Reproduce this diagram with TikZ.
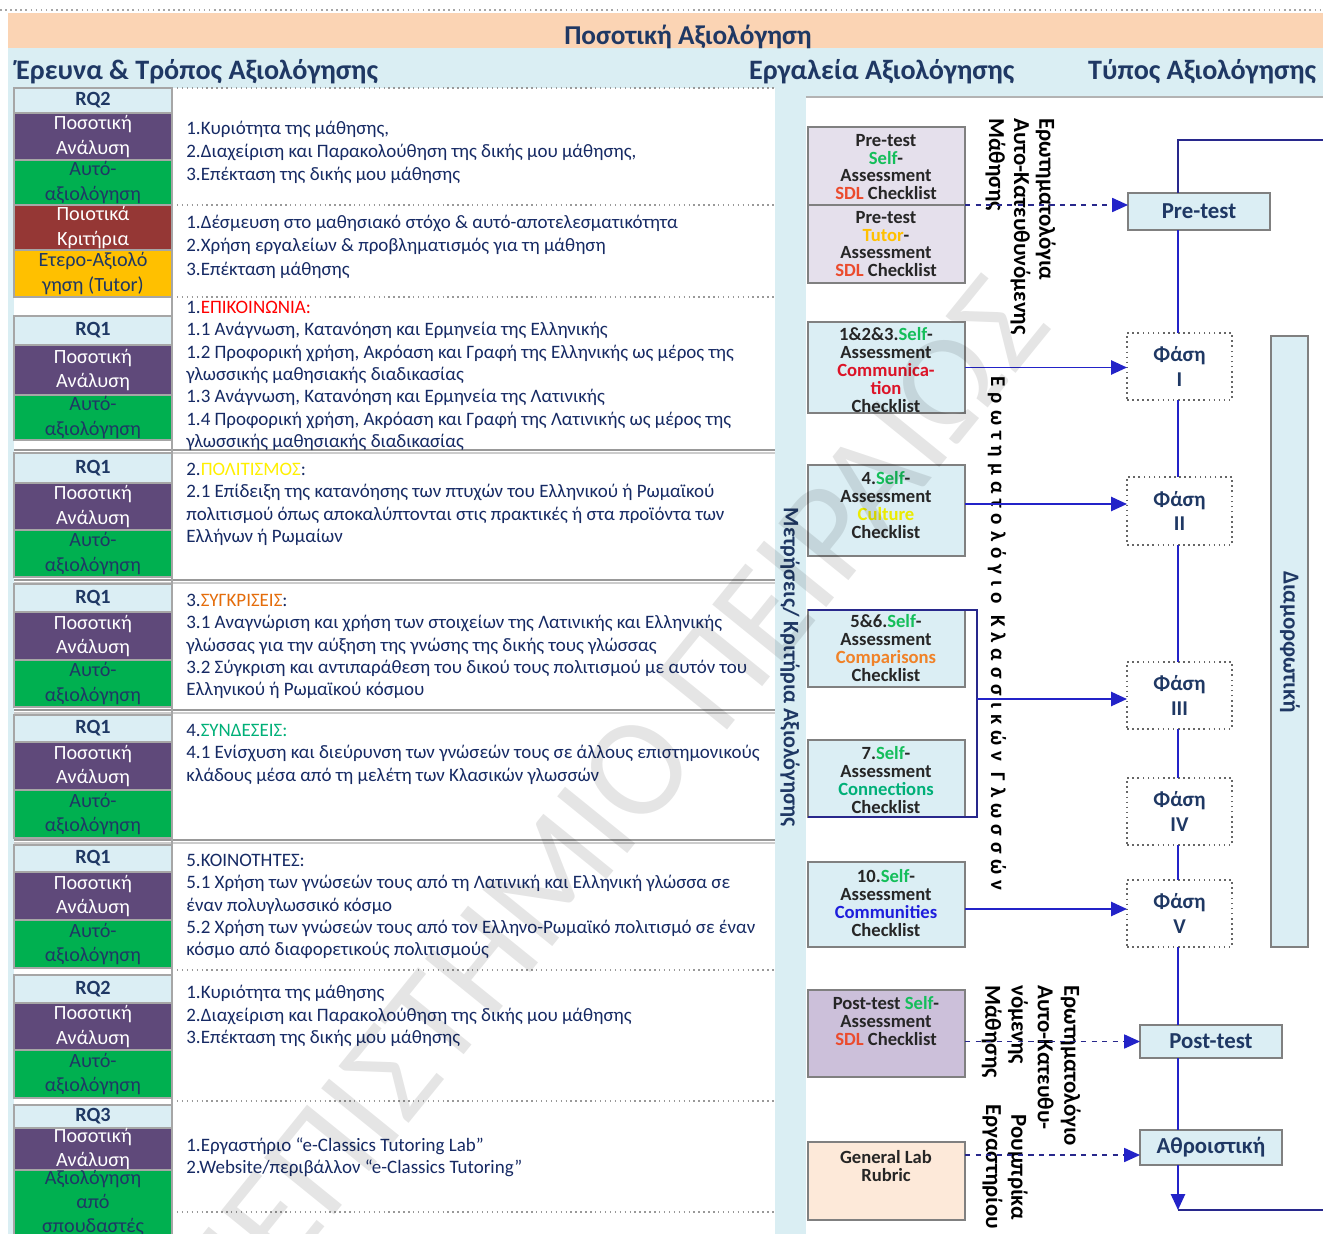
\documentclass[tikz,border=0pt]{standalone}
\usepackage{fontspec}
\setmainfont{Carlito}
\usetikzlibrary{arrows.meta}

\definecolor{navy}{RGB}{31,56,100}
\definecolor{rowink}{RGB}{22,42,100}
\definecolor{peach}{RGB}{251,212,180}
\definecolor{bgblue}{RGB}{218,238,243}
\definecolor{cellblue}{RGB}{219,238,244}
\definecolor{purp}{RGB}{95,73,122}
\definecolor{grn}{RGB}{0,176,80}
\definecolor{dred}{RGB}{149,55,53}
\definecolor{amber}{RGB}{255,192,0}
\definecolor{lilac}{RGB}{229,224,236}
\definecolor{lilacdk}{RGB}{204,192,218}
\definecolor{labpeach}{RGB}{253,233,217}
\definecolor{edge}{RGB}{128,128,128}
\definecolor{flow}{RGB}{35,35,200}
\definecolor{dashc}{RGB}{40,40,140}
\definecolor{selfg}{RGB}{20,190,90}
\definecolor{sdl}{RGB}{235,75,45}
\definecolor{tutorc}{RGB}{255,192,0}
\definecolor{commc}{RGB}{220,20,40}
\definecolor{cultc}{RGB}{235,235,0}
\definecolor{compc}{RGB}{240,130,40}
\definecolor{connc}{RGB}{0,176,120}
\definecolor{commuc}{RGB}{30,30,220}
\definecolor{epik}{RGB}{255,0,0}
\definecolor{polit}{RGB}{255,240,0}
\definecolor{sygk}{RGB}{228,108,10}
\definecolor{synd}{RGB}{0,176,120}
\definecolor{toolink}{RGB}{38,38,38}

% empty framed cell from (x1,y1) to (x2,y2) plus a centred label
\newcommand{\cellbox}[8]{%
  \node[#6, anchor=north west, inner sep=0pt, outer sep=0pt,
        minimum width={((#4)-(#2))*0.02cm},
        minimum height={((#5)-(#3))*0.02cm}] (#1) at (#2,#3) {};
  \node[#7, align=center, inner sep=0pt] (#1-t) at (#1.center) {#8};}

\begin{document}
\begin{tikzpicture}[x=0.02cm, y=-0.02cm,
  rqcell/.style={fill=cellblue, draw=edge!70, line width=0.6pt},
  rqtext/.style={text=navy, font=\fontsize{11.5}{13.7}\selectfont\bfseries},
  qcell/.style={fill=purp, draw=edge!70, line width=0.6pt},
  qtext/.style={text=white, font=\fontsize{11.5}{13.7}\selectfont},
  scell/.style={fill=grn, draw=edge!70, line width=0.6pt},
  stext/.style={text=navy, font=\fontsize{11.5}{13.7}\selectfont},
  rcell/.style={fill=dred, draw=edge!70, line width=0.6pt},
  ocell/.style={fill=amber, draw=edge!70, line width=0.6pt},
  rowtext/.style={anchor=north west, inner sep=0pt, align=left, text=rowink,
    font=\fontsize{10.8}{12.7}\selectfont},
  sepdot/.style={draw=edge!80, dotted, line width=0.8pt},
  sepline/.style={draw=edge!80, line width=1pt},
  header/.style={text=navy, font=\fontsize{16}{19}\selectfont\bfseries, anchor=west},
  toolbox/.style={fill=cellblue, draw=edge, line width=0.8pt},
  tooltext/.style={text=toolink, align=center,
    font=\fontsize{10.6}{10.2}\selectfont\bfseries},
  stagebox/.style={fill=cellblue, draw=edge, line width=0.8pt},
  stagetext/.style={text=navy, font=\fontsize{13}{15}\selectfont\bfseries},
  phasebox/.style={fill=white, draw=black!60, dotted, line width=0.9pt},
  phasetext/.style={text=navy, font=\fontsize{12}{13.7}\selectfont\bfseries},
  vtext/.style={rotate=-90, text=black, align=left, inner sep=0pt,
    font=\fontsize{13}{14.3}\selectfont\bfseries},
  flowline/.style={draw=flow, line width=1.1pt},
  flowarrow/.style={draw=flow, line width=1.1pt, -{Triangle[length=9pt,width=8pt]}},
  dasharrow/.style={draw=dashc, line width=0.8pt, dashed,
    -{Triangle[length=9pt,width=8pt,color=flow]}},
]
\useasboundingbox (0,0) rectangle (1323,1234);
\fill[white] (0,0) rectangle (1323,1234);

% ---- title bands ----
\draw[edge!70, dotted, line width=0.9pt] (0,10) -- (1323,10);
\fill[peach] (8,13) rectangle (1323,48);
\fill[bgblue] (8,48) rectangle (1323,1234);
\node[text=navy, font=\fontsize{15.5}{18}\selectfont\bfseries] (title) at (688,37) {Ποσοτική Αξιολόγηση};
\node[header] (h1) at (10,72) {Έρευνα \& Τρόπος Αξιολόγησης};
\node[header] (h2) at (743,72) {Εργαλεία Αξιολόγησης};
\node[header] (h3) at (1082,72) {Τύπος Αξιολόγησης};

% ---- left table ----
\fill[white] (14,88) rectangle (775,1234);
\fill[white] (806,97) rectangle (1323,1234);
\draw[edge!60, line width=0.8pt] (806,97) -- (1323,97);

\draw[sepdot] (172,88) -- (775,88);
\draw[sepdot] (172,205) -- (775,205);
\draw[sepdot] (172,297) -- (775,297);
\foreach \yy in {450,580,710,840} {
  \draw[sepline] (14,\yy) -- (775,\yy);
  \draw[edge!40, line width=0.8pt] (14,\yy+3) -- (775,\yy+3);
}
\draw[sepdot] (172,970) -- (775,970);
\draw[sepdot] (172,1101) -- (775,1101);
\draw[sepdot] (172,1212) -- (775,1212);
\draw[edge!70, line width=0.8pt] (172,88) -- (172,1234);

% row 1
\cellbox{r1a}{14}{88}{172}{113}{rqcell}{rqtext}{RQ2}
\cellbox{r1b}{14}{113}{172}{160}{qcell}{qtext}{Ποσοτική\\Ανάλυση}
\cellbox{r1c}{14}{160}{172}{205}{scell}{stext}{Αυτό-\\αξιολόγηση}
\node[rowtext, font=\fontsize{10.8}{13}\selectfont] (t1) at (186,121) {1.Κυριότητα της μάθησης,\\2.Διαχείριση και Παρακολούθηση της δικής μου μάθησης,\\3.Επέκταση της δικής μου μάθησης};
% row 2
\cellbox{r2a}{14}{205}{172}{250}{rcell}{qtext}{Ποιοτικά\\Κριτήρια}
\cellbox{r2b}{14}{250}{172}{297}{ocell}{stext}{Ετερο-Αξιολό\\γηση  (Tutor)}
\node[rowtext, font=\fontsize{10.8}{13.2}\selectfont] (t2) at (186,215) {1.Δέσμευση στο μαθησιακό στόχο \& αυτό-αποτελεσματικότητα\\2.Χρήση εργαλείων  \& προβληματισμός για τη μάθηση\\3.Επέκταση μάθησης};
% row 3
\cellbox{r3a}{14}{316}{172}{345}{rqcell}{rqtext}{RQ1}
\cellbox{r3b}{14}{345}{172}{395}{qcell}{qtext}{Ποσοτική\\Ανάλυση}
\cellbox{r3c}{14}{395}{172}{440}{scell}{stext}{Αυτό-\\αξιολόγηση}
\node[rowtext] (t3) at (186,301) {1.{\color{epik}ΕΠΙΚΟΙΝΩΝΙΑ:}\\
1.1 Ανάγνωση, Κατανόηση και Ερμηνεία της Ελληνικής\\
1.2 Προφορική  χρήση, Ακρόαση και Γραφή  της Ελληνικής ως μέρος της\\
γλωσσικής μαθησιακής διαδικασίας\\
1.3 Ανάγνωση, Κατανόηση και Ερμηνεία της Λατινικής\\
1.4 Προφορική  χρήση, Ακρόαση και Γραφή  της Λατινικής ως μέρος της\\
γλωσσικής μαθησιακής διαδικασίας};
% row 4
\cellbox{r4a}{14}{453}{172}{483}{rqcell}{rqtext}{RQ1}
\cellbox{r4b}{14}{483}{172}{530}{qcell}{qtext}{Ποσοτική\\Ανάλυση}
\cellbox{r4c}{14}{530}{172}{577}{scell}{stext}{Αυτό-\\αξιολόγηση}
\node[rowtext] (t4) at (186,463) {2.{\color{polit}ΠΟΛΙΤΙΣΜΟΣ}:\\
2.1 Επίδειξη της κατανόησης των πτυχών του Ελληνικού ή Ρωμαϊκού\\
πολιτισμού όπως αποκαλύπτονται στις πρακτικές ή στα προϊόντα των\\
Ελλήνων ή Ρωμαίων};
% row 5
\cellbox{r5a}{14}{584}{172}{612}{rqcell}{rqtext}{RQ1}
\cellbox{r5b}{14}{612}{172}{660}{qcell}{qtext}{Ποσοτική\\Ανάλυση}
\cellbox{r5c}{14}{660}{172}{707}{scell}{stext}{Αυτό-\\αξιολόγηση}
\node[rowtext] (t5) at (186,594) {3.{\color{sygk}ΣΥΓΚΡΙΣΕΙΣ}:\\
3.1 Αναγνώριση και χρήση των στοιχείων της Λατινικής και Ελληνικής\\
γλώσσας για την αύξηση της γνώσης της δικής τους γλώσσας\\
3.2 Σύγκριση και αντιπαράθεση του δικού τους πολιτισμού με αυτόν του\\
Ελληνικού ή Ρωμαϊκού κόσμου};
% row 6
\cellbox{r6a}{14}{715}{172}{742}{rqcell}{rqtext}{RQ1}
\cellbox{r6b}{14}{742}{172}{790}{qcell}{qtext}{Ποσοτική\\Ανάλυση}
\cellbox{r6c}{14}{790}{172}{838}{scell}{stext}{Αυτό-\\αξιολόγηση}
\node[rowtext] (t6) at (186,724) {4.{\color{synd}ΣΥΝΔΕΣΕΙΣ:}\\
4.1 Ενίσχυση και διεύρυνση των γνώσεών τους σε άλλους επιστημονικούς\\
κλάδους μέσα από τη μελέτη των Κλασικών γλωσσών};
% row 7
\cellbox{r7a}{14}{845}{172}{872}{rqcell}{rqtext}{RQ1}
\cellbox{r7b}{14}{872}{172}{920}{qcell}{qtext}{Ποσοτική\\Ανάλυση}
\cellbox{r7c}{14}{920}{172}{968}{scell}{stext}{Αυτό-\\αξιολόγηση}
\node[rowtext] (t7) at (186,854) {5.ΚΟΙΝΟΤΗΤΕΣ:\\
5.1 Χρήση των γνώσεών τους από τη Λατινική και Ελληνική γλώσσα σε\\
έναν πολυγλωσσικό κόσμο\\
5.2 Χρήση των γνώσεών τους από τον Ελληνο-Ρωμαϊκό πολιτισμό σε έναν\\
κόσμο από διαφορετικούς πολιτισμούς};
% row 8
\cellbox{r8a}{14}{975}{172}{1003}{rqcell}{rqtext}{RQ2}
\cellbox{r8b}{14}{1003}{172}{1050}{qcell}{qtext}{Ποσοτική\\Ανάλυση}
\cellbox{r8c}{14}{1050}{172}{1098}{scell}{stext}{Αυτό-\\αξιολόγηση}
\node[rowtext] (t8) at (186,985) {1.Κυριότητα της μάθησης\\2.Διαχείριση και Παρακολούθηση της δικής μου μάθησης\\3.Επέκταση της δικής μου μάθησης};
% row 9
\cellbox{r9a}{14}{1105}{172}{1128}{rqcell}{rqtext}{RQ3}
\cellbox{r9b}{14}{1128}{172}{1170}{qcell}{qtext}{Ποσοτική\\Ανάλυση}
\cellbox{r9c}{14}{1170}{172}{1236}{scell}{stext}{Αξιολόγηση\\από\\σπουδαστές}
\node[rowtext] (t9) at (186,1137) {1.Εργαστήριο “e-Classics Tutoring Lab”\\2.Website/περιβάλλον “e-Classics Tutoring”};

% ---- measurement strip ----
\node[rotate=-90, text=navy, font=\fontsize{12.6}{14}\selectfont\bfseries] (metr) at (790,667) {Μετρήσεις/ Κριτήρια Αξιολόγησης};

% ---- assessment tools ----
\cellbox{preA}{808}{127}{965}{205}{toolbox, fill=lilac}{tooltext}{}
\cellbox{preB}{808}{205}{965}{283}{toolbox, fill=lilac}{tooltext}{}
\cellbox{comm}{808}{322}{965}{413}{toolbox}{tooltext}{}
\cellbox{cult}{808}{465}{965}{556}{toolbox}{tooltext}{}
\cellbox{comp}{808}{610}{965}{687}{toolbox}{tooltext}{}
\cellbox{conn}{808}{740}{965}{817}{toolbox}{tooltext}{}
\cellbox{cmty}{808}{862}{965}{947}{toolbox}{tooltext}{}
\cellbox{post}{808}{990}{965}{1077}{toolbox, fill=lilacdk}{tooltext}{}
\cellbox{lab}{808}{1142}{965}{1220}{toolbox, fill=labpeach}{tooltext}{}

\node[tooltext] (preAt) at (886,167) {Pre-test\\{\color{selfg}Self}-\\Assessment\\{\color{sdl}SDL} Checklist};
\node[tooltext] (preBt) at (886,244) {Pre-test\\{\color{tutorc}Tutor}-\\Assessment\\{\color{sdl}SDL} Checklist};
\node[tooltext] (commt) at (886,370) {1\&2\&3.{\color{selfg}Self}-\\Assessment\\{\color{commc}Communica-}\\{\color{commc}tion}\\Checklist};
\node[tooltext] (cultt) at (886,505) {4.{\color{selfg}Self}-\\Assessment\\{\color{cultc}Culture}\\Checklist};
\node[tooltext] (compt) at (886,648) {5\&6.{\color{selfg}Self}-\\Assessment\\{\color{compc}Comparisons}\\Checklist};
\node[tooltext] (connt) at (886,780) {7.{\color{selfg}Self}-\\Assessment\\{\color{connc}Connections}\\Checklist};
\node[tooltext] (cmtyt) at (886,903) {10.{\color{selfg}Self}-\\Assessment\\{\color{commuc}Communities}\\Checklist};
\node[tooltext] (postt) at (886,1021) {Post-test {\color{selfg}Self}-\\Assessment\\{\color{sdl}SDL} Checklist};
\node[tooltext] (labt) at (886,1166) {General Lab\\Rubric};

% bracket grouping comparisons and connections
\coordinate (brk) at (977,699);
\draw[dashc, line width=0.9pt] (comp.north west) -- (comp.north west -| brk) -- (conn.south west -| brk) -- (conn.south west);

% ---- questionnaire captions ----
\node[vtext, anchor=north west] (qpre) at (1056,118) {Ερωτηματολόγια\\Αυτο-Κατευθυνόμενης\\Μάθησης};
\node[vtext, anchor=west, font=\fontsize{12}{14}\selectfont\bfseries\addfontfeature{LetterSpace=29}] (qcls) at (997,376) {Ερωτηματολόγιο Κλασσικών Γλωσσών};
\node[vtext, anchor=north west, font=\fontsize{13}{15}\selectfont\bfseries] (qpost) at (1081,985) {Ερωτηματολόγιο\\Αυτο-Κατευθυ-\\νόμενης\\Μάθησης};
\node[vtext, anchor=north, align=center] (qlab) at (1028,1167) {Ρουμπρίκα\\Εργαστηρίου};

% ---- assessment type column ----
\cellbox{pre}{1128}{193}{1270}{230}{stagebox}{stagetext}{Pre-test}
\cellbox{f1}{1127}{333}{1232}{400}{phasebox}{phasetext}{Φάση\\I}
\cellbox{f2}{1127}{477}{1232}{545}{phasebox}{phasetext}{Φάση\\II}
\cellbox{f3}{1127}{662}{1232}{729}{phasebox}{phasetext}{Φάση\\III}
\cellbox{f4}{1127}{778}{1232}{845}{phasebox}{phasetext}{Φάση\\IV}
\cellbox{f5}{1127}{880}{1232}{947}{phasebox}{phasetext}{Φάση\\V}
\cellbox{postT}{1140}{1025}{1282}{1058}{stagebox}{stagetext}{Post-test}
\cellbox{sum}{1140}{1130}{1282}{1165}{stagebox}{stagetext}{Αθροιστική}
\cellbox{diam}{1271}{336}{1308}{947}{stagebox}{stagetext}{}
\node[rotate=-90, stagetext] (diamt) at (1290,642) {Διαμορφωτική};

% spine through the stages
\coordinate (spine) at (1178,0);
\coordinate (top) at (1178,140);
\coordinate (bot) at (1178,1210);
\draw[dashc, line width=1pt] (1323,140) -- (top) -- (top |- pre.north);
\draw[flowline] (pre.south -| spine) -- (f1.north -| spine);
\draw[flowline] (f1.south -| spine) -- (f2.north -| spine);
\draw[flowline] (f2.south -| spine) -- (f3.north -| spine);
\draw[flowline] (f3.south -| spine) -- (f4.north -| spine);
\draw[flowline] (f4.south -| spine) -- (f5.north -| spine);
\draw[flowline] (f5.south -| spine) -- (postT.north -| spine);
\draw[flowline] (postT.south -| spine) -- (sum.north -| spine);
\draw[flowarrow] (sum.south -| spine) -- (bot);
\draw[dashc, line width=1pt] (bot) -- (1323,1210);

% tool -> stage arrows
\draw[dasharrow] (preA.south east) -- (preA.south east -| pre.west);
\draw[flowarrow] (comm.east) -- (comm.east -| f1.west);
\draw[flowarrow] (cult.east |- 0,504) -- (f2.west |- 0,504);
\draw[flowarrow] (brk) -- (brk -| f3.west);
\draw[flowarrow] (cmty.east |- 0,909) -- (f5.west |- 0,909);
\draw[dasharrow] (post.east |- postT.west) -- (postT.west);
\draw[dasharrow] (lab.east |- 0,1155) -- (sum.west |- 0,1155);

% ---- watermark ----
\node[rotate=51, anchor=base east, text=black, text opacity=0.1,
  font=\fontsize{80}{80}\selectfont] (wm) at (1058,322) {ΠΑΝΕΠΙΣΤΗΜΙΟ ΠΕΙΡΑΙΩΣ};
\end{tikzpicture}
\end{document}
